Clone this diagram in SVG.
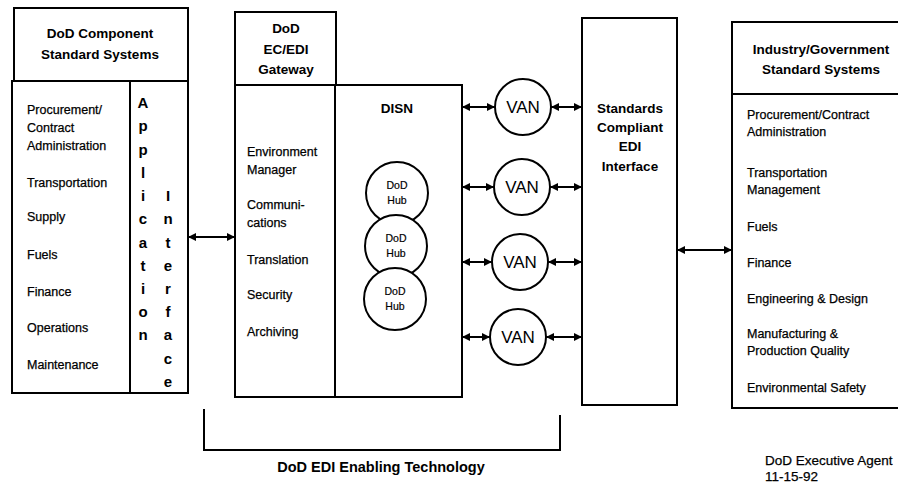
<svg xmlns="http://www.w3.org/2000/svg" width="898" height="483" viewBox="0 0 898 483">
<style>
  .box { fill: #fff; stroke: #000; stroke-width: 2; }
  .ln { fill: none; stroke: #000; stroke-width: 2; }
  .hd { font-family: "Liberation Sans", Arial, sans-serif; font-weight: bold; font-size: 13.5px; fill: #000; text-anchor: middle; }
  .it { font-family: "Liberation Sans", Arial, sans-serif; font-size: 12.5px; fill: #000; stroke: #000; stroke-width: 0.25; }
  .ai { font-family: "Liberation Sans", Arial, sans-serif; font-weight: bold; font-size: 15px; fill: #000; text-anchor: middle; }
  .hub { font-family: "Liberation Sans", Arial, sans-serif; font-size: 10.5px; fill: #000; text-anchor: middle; stroke: #000; stroke-width: 0.2; }
  .van { font-family: "Liberation Sans", Arial, sans-serif; font-size: 17px; fill: #000; text-anchor: middle; }
  .ft { font-family: "Liberation Sans", Arial, sans-serif; font-weight: bold; font-size: 14.5px; fill: #000; }
  .sm { font-family: "Liberation Sans", Arial, sans-serif; font-size: 13.5px; fill: #000; stroke: #000; stroke-width: 0.25; }
</style>
<defs>
  <marker id="ah" viewBox="0 0 10 10" refX="10" refY="5" markerWidth="4" markerHeight="4" orient="auto-start-reverse">
    <path d="M0,0 L10,5 L0,10 z" fill="#000"/>
  </marker>
</defs>

<g id="component-systems">
  <rect class="box" x="14" y="8" width="174" height="73"/>
  <text class="hd" x="100" y="38">DoD Component</text>
  <text class="hd" x="100" y="59">Standard Systems</text>
  <rect class="box" x="12" y="81" width="176" height="312"/>
  <line class="ln" x1="130" y1="81" x2="130" y2="393"/>
  <text class="it" x="27" y="114">Procurement/</text>
  <text class="it" x="27" y="132">Contract</text>
  <text class="it" x="27" y="150">Administration</text>
  <text class="it" x="27" y="187">Transportation</text>
  <text class="it" x="27" y="221">Supply</text>
  <text class="it" x="27" y="259">Fuels</text>
  <text class="it" x="27" y="296">Finance</text>
  <text class="it" x="27" y="332">Operations</text>
  <text class="it" x="27" y="369">Maintenance</text>
  <g id="application-interface">
    <text class="ai" x="143" y="108">A</text>
    <text class="ai" x="143" y="131">p</text>
    <text class="ai" x="143" y="155">p</text>
    <text class="ai" x="143" y="178">l</text>
    <text class="ai" x="143" y="201">i</text>
    <text class="ai" x="143" y="224">c</text>
    <text class="ai" x="143" y="248">a</text>
    <text class="ai" x="143" y="271">t</text>
    <text class="ai" x="143" y="294">i</text>
    <text class="ai" x="143" y="317">o</text>
    <text class="ai" x="143" y="340">n</text>
    <text class="ai" x="168" y="201">I</text>
    <text class="ai" x="168" y="224">n</text>
    <text class="ai" x="168" y="248">t</text>
    <text class="ai" x="168" y="271">e</text>
    <text class="ai" x="168" y="294">r</text>
    <text class="ai" x="168" y="317">f</text>
    <text class="ai" x="168" y="340">a</text>
    <text class="ai" x="168" y="364">c</text>
    <text class="ai" x="168" y="387">e</text>
  </g>
</g>

<g id="gateway">
  <rect class="box" x="235" y="12" width="101" height="73"/>
  <text class="hd" x="286" y="33">DoD</text>
  <text class="hd" x="286" y="54">EC/EDI</text>
  <text class="hd" x="286" y="74">Gateway</text>
  <rect class="box" x="235" y="85" width="227" height="312"/>
  <line class="ln" x1="335" y1="85" x2="335" y2="397"/>
  <text class="it" x="247" y="156">Environment</text>
  <text class="it" x="247" y="174">Manager</text>
  <text class="it" x="247" y="209">Communi-</text>
  <text class="it" x="247" y="227">cations</text>
  <text class="it" x="247" y="264">Translation</text>
  <text class="it" x="247" y="299">Security</text>
  <text class="it" x="247" y="336">Archiving</text>
</g>

<g id="disn">
  <text class="hd" x="397" y="113">DISN</text>
  <g id="hub1">
    <circle class="box" cx="397" cy="193" r="31"/>
    <text class="hub" x="397" y="189">DoD</text>
    <text class="hub" x="397" y="204">Hub</text>
  </g>
  <g id="hub2">
    <circle class="box" cx="396" cy="246" r="31"/>
    <text class="hub" x="396" y="242">DoD</text>
    <text class="hub" x="396" y="257">Hub</text>
  </g>
  <g id="hub3">
    <circle class="box" cx="395" cy="299" r="31"/>
    <text class="hub" x="395" y="295">DoD</text>
    <text class="hub" x="395" y="310">Hub</text>
  </g>
</g>

<g id="van1">
  <circle class="box" cx="523" cy="107" r="28"/>
  <text class="van" x="523" y="113">VAN</text>
</g>
<g id="van2">
  <circle class="box" cx="522" cy="187" r="28"/>
  <text class="van" x="522" y="193">VAN</text>
</g>
<g id="van3">
  <circle class="box" cx="520" cy="262" r="28"/>
  <text class="van" x="520" y="268">VAN</text>
</g>
<g id="van4">
  <circle class="box" cx="518" cy="337" r="28"/>
  <text class="van" x="518" y="343">VAN</text>
</g>

<g id="standards-interface">
  <rect class="box" x="582" y="18" width="95" height="387"/>
  <text class="hd" x="630" y="113">Standards</text>
  <text class="hd" x="630" y="132">Compliant</text>
  <text class="hd" x="630" y="151">EDI</text>
  <text class="hd" x="630" y="171">Interface</text>
</g>

<g id="industry-systems">
  <rect class="box" x="732" y="22" width="180" height="72"/>
  <text class="hd" x="821" y="54">Industry/Government</text>
  <text class="hd" x="821" y="74">Standard Systems</text>
  <rect class="box" x="732" y="94" width="180" height="314"/>
  <text class="it" x="747" y="119">Procurement/Contract</text>
  <text class="it" x="747" y="136">Administration</text>
  <text class="it" x="747" y="177">Transportation</text>
  <text class="it" x="747" y="194">Management</text>
  <text class="it" x="747" y="231">Fuels</text>
  <text class="it" x="747" y="267">Finance</text>
  <text class="it" x="747" y="303">Engineering &amp; Design</text>
  <text class="it" x="747" y="338">Manufacturing &amp;</text>
  <text class="it" x="747" y="355">Production Quality</text>
  <text class="it" x="747" y="392">Environmental Safety</text>
</g>

<g id="connectors">
  <line class="ln" x1="188" y1="237" x2="235" y2="237" marker-start="url(#ah)" marker-end="url(#ah)"/>
  <line class="ln" x1="462" y1="107" x2="495" y2="107" marker-start="url(#ah)" marker-end="url(#ah)"/>
  <line class="ln" x1="551" y1="107" x2="582" y2="107" marker-start="url(#ah)" marker-end="url(#ah)"/>
  <line class="ln" x1="462" y1="187" x2="494" y2="187" marker-start="url(#ah)" marker-end="url(#ah)"/>
  <line class="ln" x1="550" y1="187" x2="582" y2="187" marker-start="url(#ah)" marker-end="url(#ah)"/>
  <line class="ln" x1="462" y1="262" x2="492" y2="262" marker-start="url(#ah)" marker-end="url(#ah)"/>
  <line class="ln" x1="548" y1="262" x2="582" y2="262" marker-start="url(#ah)" marker-end="url(#ah)"/>
  <line class="ln" x1="462" y1="337" x2="490" y2="337" marker-start="url(#ah)" marker-end="url(#ah)"/>
  <line class="ln" x1="546" y1="337" x2="582" y2="337" marker-start="url(#ah)" marker-end="url(#ah)"/>
  <line class="ln" x1="677" y1="250" x2="732" y2="250" marker-start="url(#ah)" marker-end="url(#ah)"/>
</g>

<g id="enabling-technology">
  <path class="ln" d="M204,409 L204,450 L560,450 L560,415"/>
  <text class="ft" x="381" y="472" text-anchor="middle">DoD EDI Enabling Technology</text>
</g>

<g id="footer">
  <text class="sm" x="765" y="465">DoD Executive Agent</text>
  <text class="sm" x="765" y="481" font-size="11">11-15-92</text>
</g>
</svg>
